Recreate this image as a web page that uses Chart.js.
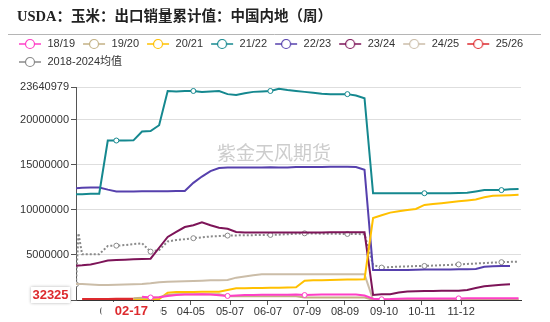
<!DOCTYPE html>
<html>
<head>
<meta charset="utf-8">
<script src="https://cdn.jsdelivr.net/npm/chart.js@4.4.1/dist/chart.umd.min.js"></script>
<style>
  html, body { margin: 0; padding: 0; background: #fff; }
</style>
</head>
<body>
<canvas id="chart" width="550" height="322"></canvas>
<script>
// 周度日期（各年份按月-日对齐）
var dates = ['01-01','01-03','01-06','01-13','01-20','01-27','02-03','02-10','02-17','02-24',
  '03-03','03-10','03-17','03-24','03-31','04-07','04-14','04-21','04-28','05-05',
  '05-12','05-19','05-26','06-02','06-09','06-16','06-23','06-30','07-07','07-14',
  '07-21','07-28','08-04','08-11','08-18','08-25','09-01','09-08','09-15','09-22',
  '09-29','10-06','10-13','10-20','10-27','11-03','11-10','11-17','11-24','12-01',
  '12-08','12-15','12-22','12-29'];

var tickLabels = ['02-01','03-05','04-05','05-07','06-07','07-09','08-09','09-10','10-11','11-12'];
var yTicks = [0, 5000000, 10000000, 15000000, 20000000, 23640979];

var s1819 = [null,null,null,null,null,null,null,null,null,370000,
  280000,300000,450000,550000,600000,620000,630000,600000,520000,450000,
  500000,550000,560000,570000,580000,580000,590000,600000,550000,580000,
  600000,600000,600000,600000,600000,500000,150000,80000,100000,150000,
  160000,170000,170000,180000,180000,180000,180000,185000,185000,190000,
  190000,190000,190000,190000];
var s1920 = [null,null,null,null,null,null,null,null,200000,250000,
  250000,300000,550000,650000,650000,650000,650000,650000,650000,420000,
  420000,420000,420000,420000,420000,420000,420000,420000,280000,280000,
  280000,280000,280000,280000,280000,280000,20000,20000,20000,20000,
  20000,20000,20000,20000,20000,20000,20000,20000,20000,20000,
  20000,20000,20000,20000];
var s2021 = [null,null,null,null,null,null,null,null,80000,80000,
  80000,100000,800000,900000,900000,900000,910000,920000,920000,1100000,
  1300000,1300000,1320000,1330000,1350000,1370000,1390000,1410000,2150000,2180000,
  2200000,2220000,2250000,2270000,2280000,2300000,9100000,9400000,9700000,9850000,
  10000000,10100000,10550000,10650000,10750000,10850000,10950000,11050000,11150000,11400000,
  11560000,11600000,11630000,11670000];
var s2122 = [11740000,null,11750000,11780000,11800000,17700000,17700000,17700000,17720000,18700000,
  18750000,19400000,23200000,23150000,23200000,23200000,23100000,23150000,23200000,22850000,
  22750000,22950000,23100000,23150000,23200000,23450000,23300000,23200000,23100000,23000000,
  22900000,22850000,22850000,22850000,22700000,22400000,11840000,11840000,11840000,11850000,
  11850000,11850000,11850000,11860000,11860000,11860000,11870000,11900000,12050000,12200000,
  12200000,12200000,12300000,12330000];
var s2223 = [12400000,null,12450000,12480000,12480000,12250000,12050000,12050000,12050000,12060000,
  12060000,12070000,12080000,12090000,12100000,13000000,13700000,14300000,14650000,14700000,
  14700000,14720000,14700000,14720000,14730000,14700000,14720000,14750000,14760000,14770000,
  14770000,14780000,14790000,14800000,14750000,14450000,3330000,3330000,3330000,3330000,
  3340000,3350000,3380000,3380000,3380000,3390000,3400000,3410000,3450000,3700000,
  3750000,3770000,3780000,null];
var s2324 = [3810000,null,3850000,3930000,4150000,4380000,4440000,4480000,4520000,4550000,
  4580000,5800000,7000000,7550000,8100000,8300000,8630000,8300000,8030000,7900000,
  7550000,7480000,7480000,7490000,7500000,7500000,7500000,7500000,7500000,7500000,
  7500000,7510000,7510000,7510000,7520000,7520000,560000,630000,650000,830000,
  950000,980000,1000000,1000000,1020000,1030000,1030000,1120000,1330000,1520000,
  1620000,1690000,1740000,null];
var s2425 = [1780000,null,1770000,1720000,1670000,1670000,1700000,1720000,1750000,1780000,
  1850000,1970000,2020000,2050000,2080000,2120000,2150000,2180000,2200000,2220000,
  2480000,2620000,2750000,2850000,2850000,2850000,2850000,2850000,2850000,2850000,
  2850000,2850000,2850000,2850000,2850000,2850000,30000,30000,30000,30000,
  30000,30000,30000,30000,30000,30000,30000,30000,30000,30000,
  30000,30000,30000,30000];
var s2526 = [null,null,0,0,12000,12000,32325,32325,32325];
var sAvg = [1740000,7400000,5070000,5070000,5070000,6000000,6030000,6100000,6200000,6300000,
  5370000,5550000,6500000,6650000,6750000,6860000,6950000,7050000,7100000,7150000,
  7170000,7180000,7200000,7210000,7220000,7250000,7300000,7350000,7400000,7380000,
  7360000,7350000,7340000,7330000,7320000,7300000,3900000,3600000,3650000,3700000,
  3730000,3760000,3780000,3820000,3860000,3900000,3950000,4000000,4050000,4100000,
  4150000,4200000,4230000,4260000];

var pointerDate = '02-17';

var monthStart = [0, 31, 59, 90, 120, 151, 181, 212, 243, 273, 304, 334];
function dayOf(md) {
    var p = md.split('-');
    return monthStart[parseInt(p[0], 10) - 1] + parseInt(p[1], 10) - 1;
}

var RED = '#dd2a2e';

var series = [
    { label: '18/19', vals: s1819, color: '#ff3fc7', marks: [10, 19, 28, 37, 46] },
    { label: '19/20', vals: s1920, color: '#c3b184', marks: [] },
    { label: '20/21', vals: s2021, color: '#ffc000', marks: [] },
    { label: '21/22', vals: s2122, color: '#15888f', marks: [6, 15, 24, 33, 42, 51] },
    { label: '22/23', vals: s2223, color: '#5640ad', marks: [] },
    { label: '23/24', vals: s2324, color: '#7d1458', marks: [] },
    { label: '24/25', vals: s2425, color: '#cbbda8', marks: [] },
    { label: '25/26', vals: s2526, color: RED, marks: [], width: 4 },
    { label: '2018-2024均值', vals: sAvg, color: '#8a8a8a', marks: [0, 6, 10, 15, 19, 24, 28, 33, 37, 42, 46, 51], dash: [2, 2] }
];

function legendIcon(color) {
    var c = document.createElement('canvas');
    c.width = 24; c.height = 12;
    var g = c.getContext('2d');
    g.strokeStyle = color;
    g.lineWidth = 1.5;
    g.beginPath(); g.moveTo(1, 6); g.lineTo(23, 6); g.stroke();
    g.beginPath(); g.arc(12, 6, 4.5, 0, Math.PI * 2);
    g.fillStyle = '#fff'; g.fill();
    g.lineWidth = 1.2; g.stroke();
    return c;
}
var icons = series.map(function (s) { return legendIcon(s.color); });

var datasets = series.map(function (s) {
    return {
        label: s.label,
        data: s.vals.map(function (v, i) { return { x: dayOf(dates[i]), y: v }; }),
        borderColor: s.color,
        backgroundColor: s.color,
        borderWidth: s.width || 2,
        borderDash: s.dash || [],
        pointRadius: function (ctx) { return s.marks.indexOf(ctx.dataIndex) >= 0 ? 2.5 : 0; },
        pointBackgroundColor: '#fff',
        pointBorderColor: s.color,
        pointBorderWidth: 1,
        tension: 0,
        spanGaps: true,
        fill: false,
        xAxisID: 'x',
        yAxisID: 'y'
    };
});

// 背景、分隔线、水印、十字光标标签
var decor = {
    id: 'decor',
    beforeDraw: function (chart) {
        var ctx = chart.ctx;
        ctx.save();
        ctx.fillStyle = '#fff';
        ctx.fillRect(0, 0, chart.width, chart.height);
        ctx.strokeStyle = '#b5b5b5';
        ctx.lineWidth = 1;
        ctx.beginPath(); ctx.moveTo(8, 34.5); ctx.lineTo(541, 34.5); ctx.stroke();
        ctx.restore();
    },
    afterLayout: function (chart) {
        chart.titleBlock.left += 6;
    },
    beforeDatasetsDraw: function (chart) {
        var ctx = chart.ctx;
        ctx.save();
        ctx.font = "19px 'Noto Sans CJK SC', sans-serif";
        ctx.fillStyle = '#cdcdcd';
        ctx.textAlign = 'center';
        ctx.textBaseline = 'middle';
        ctx.fillText('紫金天风期货', 274, 153);
        ctx.restore();
    },
    afterDraw: function (chart) {
        var ctx = chart.ctx, xs = chart.scales.x, ys = chart.scales.y;
        var idx = dates.indexOf(pointerDate);
        var val = s2526[idx];
        var px = xs.getPixelForValue(dayOf(pointerDate));
        var py = Math.min(ys.getPixelForValue(val), ys.bottom - 5);
        ctx.save();
        ctx.font = "bold 13px 'Liberation Sans', sans-serif";
        ctx.textAlign = 'center';
        ctx.textBaseline = 'middle';
        ctx.fillStyle = '#fff';
        ctx.fillRect(px - 32, 302, 59, 20);
        ctx.fillStyle = RED;
        ctx.fillText(pointerDate, px - 2, 311.5);
        ctx.shadowColor = 'rgba(0,0,0,0.3)';
        ctx.shadowBlur = 3;
        ctx.fillStyle = '#fff';
        ctx.fillRect(31, py - 8, 39, 16);
        ctx.shadowColor = 'transparent';
        ctx.fillStyle = RED;
        ctx.fillText(String(val), 50.5, py + 0.5);
        ctx.restore();
    }
};

Chart.defaults.font.family = "'Liberation Sans', 'Noto Sans CJK SC', sans-serif";
Chart.defaults.font.size = 11;
Chart.defaults.color = '#333';

var chart = new Chart(document.getElementById('chart'), {
    type: 'line',
    data: { datasets: datasets },
    plugins: [decor],
    options: {
        responsive: false,
        animation: false,
        events: [],
        layout: { padding: { left: 11, right: 0, top: 0, bottom: 0 } },
        plugins: {
            title: {
                display: true,
                text: 'USDA：玉米：出口销量累计值：中国内地（周）',
                align: 'start',
                color: '#222',
                font: { size: 14.5, weight: 'bold', family: "'Liberation Serif', 'Noto Sans CJK SC', serif" },
                padding: { top: 8.3, bottom: 5.8 }
            },
            legend: {
                position: 'top',
                align: 'start',
                labels: {
                    usePointStyle: true,
                    pointStyleWidth: 24,
                    boxHeight: 11,
                    padding: 7,
                    color: '#333',
                    font: { size: 11 },
                    generateLabels: function (chart) {
                        return Chart.defaults.plugins.legend.labels.generateLabels(chart).map(function (it) {
                            it.pointStyle = icons[it.datasetIndex];
                            return it;
                        });
                    }
                }
            },
            tooltip: { enabled: false }
        },
        scales: {
            x: {
                type: 'linear',
                position: 'bottom',
                min: 0,
                max: 364,
                afterBuildTicks: function (s) {
                    s.ticks = tickLabels.map(function (t) { return { value: dayOf(t) }; });
                },
                afterFit: function (s) { s.height = 22; },
                ticks: {
                    autoSkip: false,
                    maxRotation: 0,
                    padding: 0,
                    color: '#333',
                    callback: function (v, i) { return tickLabels[i]; }
                },
                grid: { drawOnChartArea: false, tickLength: 5, tickColor: '#555' },
                border: { color: '#333', width: 1 }
            },
            y: {
                type: 'linear',
                position: 'left',
                min: 0,
                max: yTicks[yTicks.length - 1],
                afterBuildTicks: function (s) {
                    s.ticks = yTicks.map(function (v) { return { value: v }; });
                },
                afterFit: function (s) { s.width = 65; },
                ticks: {
                    padding: 2,
                    color: '#333',
                    callback: function (v) { return String(v); }
                },
                grid: { color: '#dedede', tickLength: 5, tickColor: '#555' },
                border: { color: '#555', width: 1 }
            },
            xTop: {
                type: 'linear',
                position: 'top',
                ticks: { display: false },
                grid: { display: false },
                border: { display: false },
                afterFit: function (s) { s.height = 9.5; }
            },
            yRight: {
                type: 'linear',
                position: 'right',
                ticks: { display: false },
                grid: { display: false },
                border: { display: false },
                afterFit: function (s) { s.width = 29; }
            }
        }
    }
});
</script>
</body>
</html>
